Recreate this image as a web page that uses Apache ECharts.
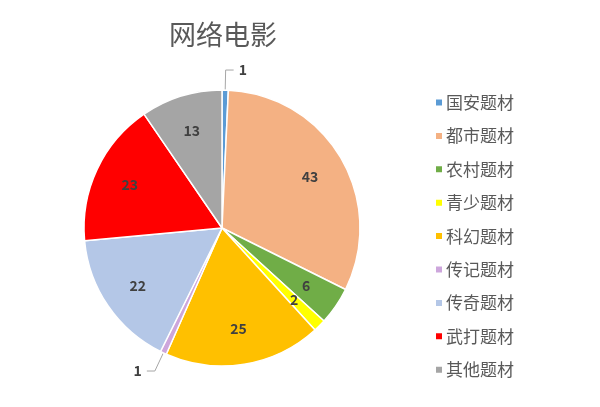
<!DOCTYPE html>
<html>
<head>
<meta charset="utf-8">
<script src="https://cdn.jsdelivr.net/npm/echarts@6/dist/echarts.min.js"></script>
<style>
  html, body { margin: 0; padding: 0; background: #fff; }
  #main { width: 600px; height: 407px; }
</style>
</head>
<body>
<div id="main"></div>
<script>
// 题材分类
var categories = ['国安题材', '都市题材', '农村题材', '青少题材', '科幻题材', '传记题材', '传奇题材', '武打题材', '其他题材'];
// 数量
var counts = [1, 43, 6, 2, 25, 1, 22, 23, 13];
var colors = ['#5B9BD5', '#F4B183', '#70AD47', '#FFFF00', '#FFC000', '#CDA6DC', '#B4C7E7', '#FF0000', '#A5A5A5'];

var chart = echarts.init(document.getElementById('main'));

var labelFont = 'Microsoft YaHei, "Noto Sans CJK SC", sans-serif';

// 主饼图：小扇区的外部标签
var mainData = categories.map(function (name, i) {
  var small = counts[i] <= 1;
  return {
    name: name,
    value: counts[i],
    label: { show: small },
    labelLine: { show: small }
  };
});

// 透明叠加层：内部标签，放在更靠外的位置
var labelData = categories.map(function (name, i) {
  return {
    name: name,
    value: counts[i],
    label: { show: counts[i] > 1 }
  };
});

chart.setOption({
  color: colors,
  title: {
    text: '网络电影',
    left: 164,
    top: 16,
    textStyle: {
      fontSize: 27,
      fontWeight: 'normal',
      color: '#595959',
      fontFamily: labelFont
    }
  },
  legend: {
    orient: 'vertical',
    left: 429,
    top: 89,
    itemWidth: 8,
    itemHeight: 8,
    itemGap: 16.4,
    icon: 'rect',
    data: categories,
    textStyle: {
      fontSize: 17,
      color: '#595959',
      fontFamily: labelFont,
      padding: [0, 0, 0, -2]
    }
  },
  series: [
    {
      name: '网络电影',
      type: 'pie',
      center: [222, 228],
      radius: [0, 138],
      startAngle: 90,
      clockwise: true,
      avoidLabelOverlap: false,
      itemStyle: {
        borderColor: '#fff',
        borderWidth: 1.5
      },
      label: {
        position: 'outside',
        formatter: '{c}',
        color: '#404040',
        fontSize: 14,
        fontWeight: 'bold',
        fontFamily: labelFont
      },
      labelLine: {
        length: 20,
        length2: 8,
        lineStyle: { color: '#A6A6A6', width: 1 }
      },
      emphasis: { disabled: true },
      data: mainData
    },
    {
      name: '标签',
      type: 'pie',
      center: [222, 228],
      radius: [60, 138],
      startAngle: 90,
      clockwise: true,
      silent: true,
      itemStyle: { color: 'rgba(0,0,0,0)' },
      label: {
        position: 'inside',
        formatter: '{c}',
        color: '#404040',
        fontSize: 14,
        fontWeight: 'bold',
        fontFamily: labelFont
      },
      labelLine: { show: false },
      emphasis: { disabled: true },
      data: labelData
    }
  ]
});
</script>
</body>
</html>
